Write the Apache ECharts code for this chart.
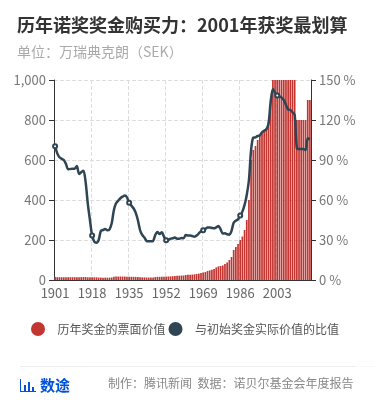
<!DOCTYPE html>
<html>
<head>
<meta charset="utf-8">
<style>
  html, body { margin: 0; padding: 0; background: #fff; }
  #chart { width: 375px; height: 400px; }
</style>
</head>
<body>
<div id="chart"></div>
<script src="https://cdn.jsdelivr.net/npm/echarts@6/dist/echarts.min.js"></script>
<script>
const years = [];
for (let y = 1901; y <= 2018; y++) years.push(String(y));

// 历年奖金的票面价值（万瑞典克朗）
const faceValue = [
  15.1, 14.2, 14.1, 14.1, 13.8, 13.9, 13.9, 14.0, 14.0, 14.1,
  14.1, 14.0, 14.3, 14.7, 14.9, 13.2, 13.4, 13.8, 13.3, 13.4,
  12.2, 12.2, 11.5, 11.7, 11.8, 11.7, 12.7, 15.7, 17.3, 17.3,
  17.3, 17.2, 17.0, 16.0, 16.0, 16.0, 15.8, 15.5, 14.9, 13.9,
  13.1, 13.2, 12.4, 12.2, 12.1, 12.2, 14.6, 16.0, 15.6, 16.4,
  16.8, 17.1, 17.5, 18.2, 19.0, 20.0, 20.9, 21.5, 22.1, 22.6,
  25.0, 25.7, 26.5, 27.3, 28.2, 30, 32, 35, 37.5, 40,
  45, 48, 51, 55, 63, 68.1, 70, 72.5, 80, 88,
  100, 115, 150, 165, 180, 200, 217.5, 250, 300, 400,
  600, 650, 670, 700, 720, 740, 750, 760, 790, 900,
  1000, 1000, 1000, 1000, 1000, 1000, 1000, 1000, 1000, 1000,
  1000, 800, 800, 800, 800, 800, 900, 900
];

// 与初始奖金实际价值的比值（%）
const realRatio = [
  100.3, 95, 92, 91, 90, 87, 83, 83.3, 83.5, 83.5,
  85.5, 79.5, 80.8, 82, 73.8, 57.5, 45, 33.3, 28.8, 28,
  30, 36.8, 37.5, 38.3, 37.3, 38, 42.5, 52.5, 57.5, 59.5,
  61.3, 62.5, 63.3, 62, 58, 55.8, 53.8, 50.5, 45, 37.5,
  33.8, 31.8, 29.3, 29, 29, 29.3, 33.8, 36, 34.5, 35.8,
  32.5, 29.8, 30, 31, 31.3, 31.8, 31, 31, 31.5, 31.3,
  33.8, 33.3, 33.3, 33, 32.5, 33.3, 35, 36.5, 37.3, 38.3,
  39.3, 39.3, 39, 38.8, 39.5, 40.5, 38, 34.8, 35, 34.3,
  34, 36.8, 43, 44.5, 45.5, 48.3, 51.3, 56.3, 63.8, 75,
  97.5, 106.8, 107, 108, 108.5, 110.8, 112, 113, 117.5, 133.8,
  143.3, 140.5, 138.3, 137.8, 136.8, 135, 131.3, 128, 127.5, 125.8,
  123.8, 98.8, 98.3, 98.3, 98.3, 97.5, 106.3, 105.5
];

const font = '"Noto Sans CJK SC", "Noto Sans", sans-serif';
const myChart = echarts.init(document.getElementById('chart'), null, { renderer: 'canvas' });

const option = {
  animation: false,
  color: ['#c23531', '#2f4554'],
  title: {
    text: '历年诺奖奖金购买力：2001年获奖最划算',
    subtext: '单位：万瑞典克朗（SEK）',
    left: 12,
    top: 11,
    itemGap: 11,
    textStyle: { color: '#333', fontSize: 18, fontWeight: 'bold', fontFamily: font },
    subtextStyle: { color: '#aaa', fontSize: 14, fontFamily: font }
  },
  legend: {
    left: 26,
    top: 317,
    itemWidth: 25,
    itemHeight: 14,
    itemGap: 3,
    icon: 'circle',
    data: ['历年奖金的票面价值', '与初始奖金实际价值的比值'],
    textStyle: { color: '#555', fontSize: 12, padding: [0, 0, 0, 2], fontFamily: font }
  },
  grid: { left: 54, right: 64, top: 80, height: 200 },
  xAxis: {
    type: 'category',
    data: years,
    boundaryGap: true,
    axisLine: { lineStyle: { color: '#333' } },
    axisTick: { interval: 16, lineStyle: { color: '#333' } },
    axisLabel: { interval: 16, color: '#666', fontSize: 13, margin: 7, fontFamily: font },
    splitLine: { show: true, interval: 16, lineStyle: { color: '#ddd', type: 'dashed' } }
  },
  yAxis: [
    {
      type: 'value',
      min: 0,
      max: 1000,
      interval: 200,
      axisLine: { show: true, lineStyle: { color: '#333' } },
      axisTick: { show: true, lineStyle: { color: '#333' } },
      axisLabel: { color: '#777', fontSize: 13, margin: 8, fontFamily: font },
      splitLine: { show: true, lineStyle: { color: '#ddd', type: 'dashed' } }
    },
    {
      type: 'value',
      min: 0,
      max: 150,
      interval: 30,
      axisLine: { show: true, lineStyle: { color: '#333' } },
      axisTick: { show: true, lineStyle: { color: '#333' } },
      axisLabel: { formatter: '{value} %', color: '#777', fontSize: 13, margin: 8, fontFamily: font },
      splitLine: { show: false }
    }
  ],
  series: [
    {
      name: '历年奖金的票面价值',
      type: 'bar',
      data: faceValue,
      barCategoryGap: '22%',
      itemStyle: { color: '#c23531' }
    },
    {
      name: '与初始奖金实际价值的比值',
      type: 'line',
      yAxisIndex: 1,
      smooth: 0.3,
      symbol: 'emptyCircle',
      symbolSize: 4,
      data: realRatio,
      lineStyle: { width: 2.5, color: '#2f4554' },
      itemStyle: { color: '#2f4554', borderWidth: 1 }
    }
  ],
  graphic: [
    { type: 'rect', shape: { x: 20, y: 366, width: 335, height: 1 }, style: { fill: '#eee' } },
    { type: 'rect', shape: { x: 355, y: 366, width: 20, height: 1 }, style: { fill: '#f8f8f8' } },
    { type: 'rect', shape: { x: 20, y: 379, width: 1, height: 13 }, style: { fill: '#0052d9' } },
    { type: 'rect', shape: { x: 20, y: 391, width: 16, height: 1 }, style: { fill: '#0052d9' } },
    { type: 'rect', shape: { x: 24, y: 385, width: 2, height: 6 }, style: { fill: '#0052d9' } },
    { type: 'rect', shape: { x: 28, y: 382, width: 2, height: 9 }, style: { fill: '#0052d9' } },
    { type: 'rect', shape: { x: 32, y: 387, width: 2, height: 4 }, style: { fill: '#0052d9' } },
    { type: 'text', left: 40, top: 378, style: { text: '数途', fill: '#0052d9', font: 'bold 15px ' + font } },
    { type: 'text', left: 108, top: 377, style: { text: '制作：腾讯新闻  数据：诺贝尔基金会年度报告', fill: '#888', font: '12px ' + font } }
  ]
};

myChart.setOption(option);
</script>
</body>
</html>
